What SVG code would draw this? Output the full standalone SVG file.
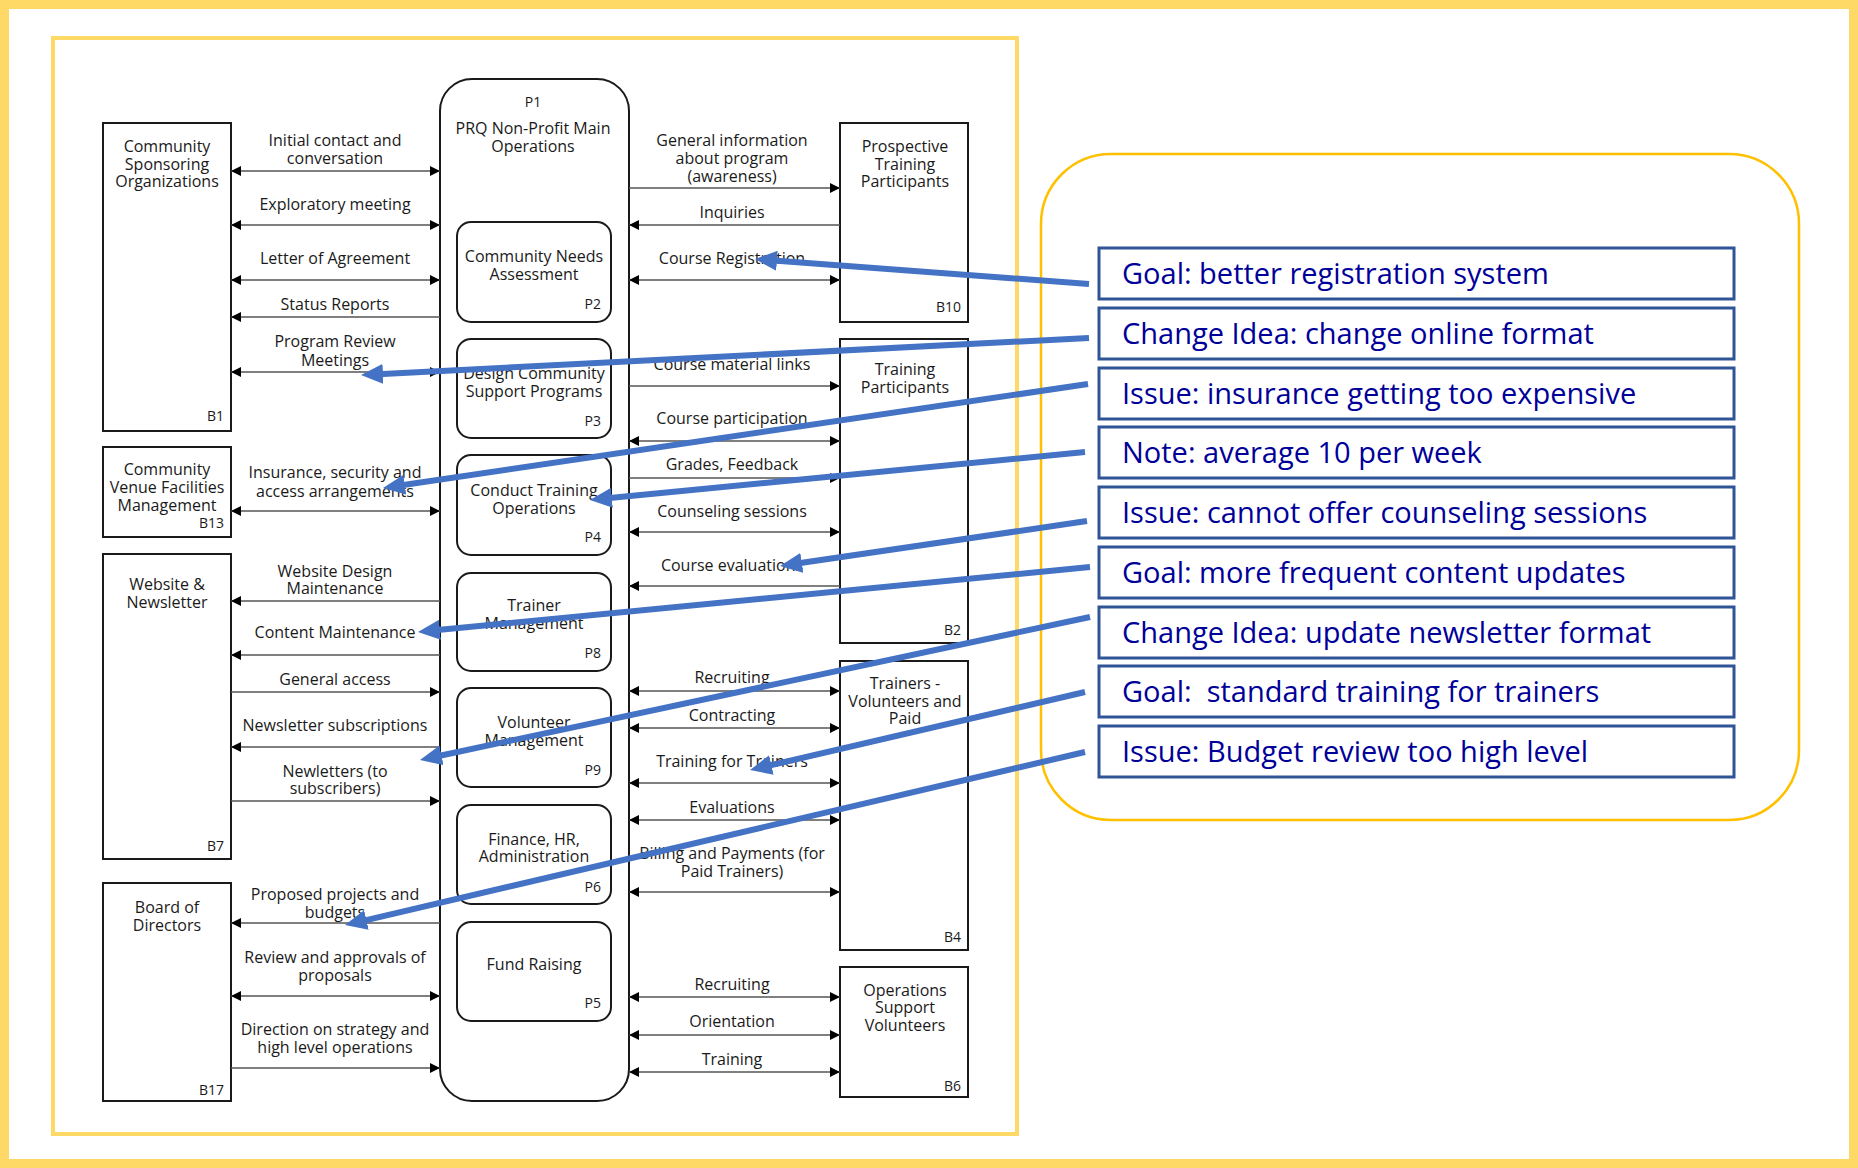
<svg xmlns="http://www.w3.org/2000/svg" width="1858" height="1168" viewBox="0 0 1858 1168">
  <style>
    .frame { fill: none; stroke: #FFD966; }
    .box { fill: #fff; stroke: #1a1a1a; stroke-width: 2; }
    .t { font-family: "Open Sans", "Noto Sans", sans-serif; font-size: 16px; fill: #1a1a1a; text-anchor: middle; }
    .id { font-family: "Open Sans", "Noto Sans", sans-serif; font-size: 14px; fill: #1a1a1a; text-anchor: end; }
    .flow { stroke: #555; stroke-width: 1.4; fill: none; marker-end: url(#ah); }
    .both { marker-start: url(#ah); }
    .note { fill: #fff; stroke: #2F5597; stroke-width: 3; }
    .nt { font-family: "Open Sans", "Noto Sans", sans-serif; font-size: 29px; fill: #000099; }
    .call { stroke: #4472C4; stroke-width: 6; fill: none; marker-end: url(#bh); }
  </style>
  <defs>
    <marker id="ah" markerUnits="userSpaceOnUse" viewBox="0 0 10 10" markerWidth="10" markerHeight="10" refX="10" refY="5" orient="auto-start-reverse">
      <path d="M0,0 L10,5 L0,10 z" fill="#000"/>
    </marker>
    <marker id="bh" markerUnits="userSpaceOnUse" viewBox="0 0 22 20" markerWidth="22" markerHeight="20" refX="10" refY="10" orient="auto">
      <path d="M0,0 L22,10 L0,20 z" fill="#4472C4"/>
    </marker>
  </defs>

  <rect width="1858" height="1168" fill="#fff"/>
  <!-- page borders -->
  <rect class="frame" x="4.5" y="4.5" width="1849" height="1159" stroke-width="9"/>
  <rect class="frame" x="53" y="38" width="964" height="1096" stroke-width="4"/>

  <!-- external entities, left column -->
  <g id="B1">
    <rect class="box" x="103" y="123" width="128" height="308"/>
    <text class="t"><tspan x="167" y="152">Community</tspan><tspan x="167" y="170">Sponsoring</tspan><tspan x="167" y="187">Organizations</tspan></text>
    <text class="id" x="224" y="421">B1</text>
  </g>
  <g id="B13">
    <rect class="box" x="103" y="447" width="128" height="90"/>
    <text class="t"><tspan x="167" y="475">Community</tspan><tspan x="167" y="493">Venue Facilities</tspan><tspan x="167" y="511">Management</tspan></text>
    <text class="id" x="224" y="528">B13</text>
  </g>
  <g id="B7">
    <rect class="box" x="103" y="554" width="128" height="305"/>
    <text class="t"><tspan x="167" y="590">Website &amp;</tspan><tspan x="167" y="608">Newsletter</tspan></text>
    <text class="id" x="224" y="851">B7</text>
  </g>
  <g id="B17">
    <rect class="box" x="103" y="883" width="128" height="218"/>
    <text class="t"><tspan x="167" y="913">Board of</tspan><tspan x="167" y="931">Directors</tspan></text>
    <text class="id" x="224" y="1095">B17</text>
  </g>

  <!-- external entities, right column -->
  <g id="B10">
    <rect class="box" x="840" y="123" width="128" height="199"/>
    <text class="t"><tspan x="905" y="152">Prospective</tspan><tspan x="905" y="170">Training</tspan><tspan x="905" y="187">Participants</tspan></text>
    <text class="id" x="961" y="312">B10</text>
  </g>
  <g id="B2">
    <rect class="box" x="840" y="339" width="128" height="304"/>
    <text class="t"><tspan x="905" y="375">Training</tspan><tspan x="905" y="393">Participants</tspan></text>
    <text class="id" x="961" y="635">B2</text>
  </g>
  <g id="B4">
    <rect class="box" x="840" y="661" width="128" height="289"/>
    <text class="t"><tspan x="905" y="689">Trainers -</tspan><tspan x="905" y="707">Volunteers and</tspan><tspan x="905" y="724">Paid</tspan></text>
    <text class="id" x="961" y="942">B4</text>
  </g>
  <g id="B6">
    <rect class="box" x="840" y="967" width="128" height="130"/>
    <text class="t"><tspan x="905" y="996">Operations</tspan><tspan x="905" y="1013">Support</tspan><tspan x="905" y="1031">Volunteers</tspan></text>
    <text class="id" x="961" y="1091">B6</text>
  </g>

  <!-- main process and its sub-processes -->
  <g id="P1">
    <rect class="box" x="440" y="79" width="189" height="1022" rx="32"/>
    <text class="t" x="533" y="107" style="font-size:14px">P1</text>
    <text class="t"><tspan x="533" y="134">PRQ Non-Profit Main</tspan><tspan x="533" y="152">Operations</tspan></text>
  </g>
  <g id="P2">
    <rect class="box" x="457" y="222" width="154" height="100" rx="14"/>
    <text class="t"><tspan x="534" y="262">Community Needs</tspan><tspan x="534" y="280">Assessment</tspan></text>
    <text class="id" x="601" y="309">P2</text>
  </g>
  <g id="P3">
    <rect class="box" x="457" y="339" width="154" height="99" rx="14"/>
    <text class="t"><tspan x="534" y="379">Design Community</tspan><tspan x="534" y="397">Support Programs</tspan></text>
    <text class="id" x="601" y="426">P3</text>
  </g>
  <g id="P4">
    <rect class="box" x="457" y="455" width="154" height="100" rx="14"/>
    <text class="t"><tspan x="534" y="496">Conduct Training</tspan><tspan x="534" y="514">Operations</tspan></text>
    <text class="id" x="601" y="542">P4</text>
  </g>
  <g id="P8">
    <rect class="box" x="457" y="573" width="154" height="98" rx="14"/>
    <text class="t"><tspan x="534" y="611">Trainer</tspan><tspan x="534" y="629">Management</tspan></text>
    <text class="id" x="601" y="658">P8</text>
  </g>
  <g id="P9">
    <rect class="box" x="457" y="688" width="154" height="99" rx="14"/>
    <text class="t"><tspan x="534" y="728">Volunteer</tspan><tspan x="534" y="746">Management</tspan></text>
    <text class="id" x="601" y="775">P9</text>
  </g>
  <g id="P6">
    <rect class="box" x="457" y="805" width="154" height="99" rx="14"/>
    <text class="t"><tspan x="534" y="845">Finance, HR,</tspan><tspan x="534" y="862">Administration</tspan></text>
    <text class="id" x="601" y="892">P6</text>
  </g>
  <g id="P5">
    <rect class="box" x="457" y="922" width="154" height="99" rx="14"/>
    <text class="t" x="534" y="970">Fund Raising</text>
    <text class="id" x="601" y="1008">P5</text>
  </g>

  <!-- data flows -->
  <g id="flows">
    <!-- left side -->
    <path class="flow both" d="M231,171 H440"/>
    <text class="t"><tspan x="335" y="146">Initial contact and</tspan><tspan x="335" y="164">conversation</tspan></text>
    <path class="flow both" d="M231,225 H440"/>
    <text class="t" x="335" y="210">Exploratory meeting</text>
    <path class="flow both" d="M231,280 H440"/>
    <text class="t" x="335" y="264">Letter of Agreement</text>
    <path class="flow" d="M440,317 H231"/>
    <text class="t" x="335" y="310">Status Reports</text>
    <path class="flow both" d="M231,372 H440"/>
    <text class="t"><tspan x="335" y="347">Program Review</tspan><tspan x="335" y="366">Meetings</tspan></text>
    <path class="flow both" d="M231,511 H440"/>
    <text class="t"><tspan x="335" y="478">Insurance, security and</tspan><tspan x="335" y="497">access arrangements</tspan></text>
    <path class="flow" d="M440,601 H231"/>
    <text class="t"><tspan x="335" y="577">Website Design</tspan><tspan x="335" y="594">Maintenance</tspan></text>
    <path class="flow" d="M440,655 H231"/>
    <text class="t" x="335" y="638">Content Maintenance</text>
    <path class="flow" d="M231,692 H440"/>
    <text class="t" x="335" y="685">General access</text>
    <path class="flow" d="M440,747 H231"/>
    <text class="t" x="335" y="731">Newsletter subscriptions</text>
    <path class="flow" d="M231,801 H440"/>
    <text class="t"><tspan x="335" y="777">Newletters (to</tspan><tspan x="335" y="794">subscribers)</tspan></text>
    <path class="flow" d="M440,923 H231"/>
    <text class="t"><tspan x="335" y="900">Proposed projects and</tspan><tspan x="335" y="918">budgets</tspan></text>
    <path class="flow both" d="M231,996 H440"/>
    <text class="t"><tspan x="335" y="963">Review and approvals of</tspan><tspan x="335" y="981">proposals</tspan></text>
    <path class="flow" d="M231,1068 H440"/>
    <text class="t"><tspan x="335" y="1035">Direction on strategy and</tspan><tspan x="335" y="1053">high level operations</tspan></text>

    <!-- right side -->
    <path class="flow" d="M629,188 H840"/>
    <text class="t"><tspan x="732" y="146">General information</tspan><tspan x="732" y="164">about program</tspan><tspan x="732" y="182">(awareness)</tspan></text>
    <path class="flow" d="M840,225 H629"/>
    <text class="t" x="732" y="218">Inquiries</text>
    <path class="flow both" d="M629,280 H840"/>
    <text class="t" x="732" y="264">Course Registration</text>
    <path class="flow" d="M629,386 H840"/>
    <text class="t" x="732" y="370">Course material links</text>
    <path class="flow both" d="M629,441 H840"/>
    <text class="t" x="732" y="424">Course participation</text>
    <path class="flow" d="M629,478 H840"/>
    <text class="t" x="732" y="470">Grades, Feedback</text>
    <path class="flow both" d="M629,532 H840"/>
    <text class="t" x="732" y="517">Counseling sessions</text>
    <path class="flow" d="M840,586 H629"/>
    <text class="t" x="732" y="571">Course evaluations</text>
    <path class="flow both" d="M629,691 H840"/>
    <text class="t" x="732" y="683">Recruiting</text>
    <path class="flow both" d="M629,728 H840"/>
    <text class="t" x="732" y="721">Contracting</text>
    <path class="flow both" d="M629,783 H840"/>
    <text class="t" x="732" y="767">Training for Trainers</text>
    <path class="flow both" d="M629,820 H840"/>
    <text class="t" x="732" y="813">Evaluations</text>
    <path class="flow both" d="M629,892 H840"/>
    <text class="t"><tspan x="732" y="859">Billing and Payments (for</tspan><tspan x="732" y="877">Paid Trainers)</tspan></text>
    <path class="flow both" d="M629,997 H840"/>
    <text class="t" x="732" y="990">Recruiting</text>
    <path class="flow both" d="M629,1035 H840"/>
    <text class="t" x="732" y="1027">Orientation</text>
    <path class="flow both" d="M629,1072 H840"/>
    <text class="t" x="732" y="1065">Training</text>
  </g>

  <!-- improvement notes panel -->
  <rect x="1041" y="154" width="758" height="666" rx="70" fill="none" stroke="#FFC000" stroke-width="2.5"/>
  <g id="N1">
    <rect class="note" x="1099" y="248" width="635" height="51"/>
    <text class="nt" x="1122" y="284">Goal: better registration system</text>
  </g>
  <g id="N2">
    <rect class="note" x="1099" y="308" width="635" height="51"/>
    <text class="nt" x="1122" y="344">Change Idea: change online format</text>
  </g>
  <g id="N3">
    <rect class="note" x="1099" y="368" width="635" height="51"/>
    <text class="nt" x="1122" y="404">Issue: insurance getting too expensive</text>
  </g>
  <g id="N4">
    <rect class="note" x="1099" y="427" width="635" height="51"/>
    <text class="nt" x="1122" y="463">Note: average 10 per week</text>
  </g>
  <g id="N5">
    <rect class="note" x="1099" y="487" width="635" height="51"/>
    <text class="nt" x="1122" y="523">Issue: cannot offer counseling sessions</text>
  </g>
  <g id="N6">
    <rect class="note" x="1099" y="547" width="635" height="51"/>
    <text class="nt" x="1122" y="583">Goal: more frequent content updates</text>
  </g>
  <g id="N7">
    <rect class="note" x="1099" y="607" width="635" height="51"/>
    <text class="nt" x="1122" y="643">Change Idea: update newsletter format</text>
  </g>
  <g id="N8">
    <rect class="note" x="1099" y="666" width="635" height="51"/>
    <text class="nt" x="1122" y="702" xml:space="preserve">Goal:  standard training for trainers</text>
  </g>
  <g id="N9">
    <rect class="note" x="1099" y="726" width="635" height="51"/>
    <text class="nt" x="1122" y="762">Issue: Budget review too high level</text>
  </g>

  <!-- callout arrows from notes to flows -->
  <g id="callouts">
    <path class="call" d="M1089,284 L767,260"/>
    <path class="call" d="M1089,338 L373,374.4"/>
    <path class="call" d="M1088,384 L394.9,486.2"/>
    <path class="call" d="M1085,452 L601.9,498.8"/>
    <path class="call" d="M1087,521 L791.9,564.3"/>
    <path class="call" d="M1090,567 L429.9,630.8"/>
    <path class="call" d="M1090,617 L431.7,757.5"/>
    <path class="call" d="M1085,692 L761.7,767.3"/>
    <path class="call" d="M1085,752 L356.7,922.3"/>
  </g>
</svg>
